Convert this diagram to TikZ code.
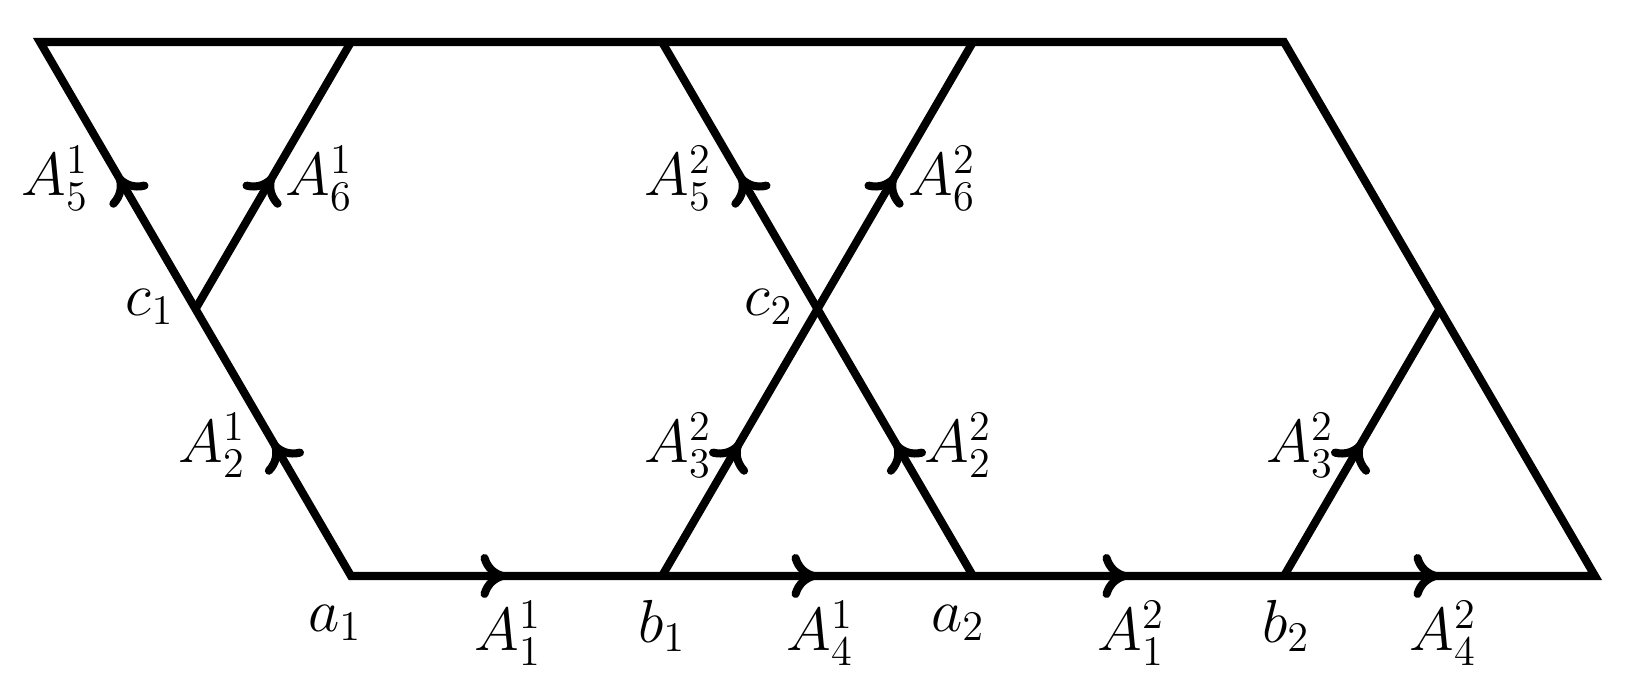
\documentclass[tikz,border=0pt]{standalone}
\usetikzlibrary{decorations.markings,arrows.meta}
\tikzset{
  edge/.style={line width=2.3pt, line join=miter},
  midarrow/.style={line width=2.3pt, postaction={decorate},
    decoration={markings, mark=at position 0.5 with {\arrow[line width=2.3pt]{Computer Modern Rightarrow[length=2.6mm,width=4.4mm]}}}},
  lab/.style={inner sep=0pt, font=\LARGE}
}
\begin{document}
\begin{tikzpicture}[x=0.01cm,y=-0.01cm]
\useasboundingbox (0,0) rectangle (1635,689);
% points
\coordinate (T1) at (40,42);
\coordinate (T2) at (351,42);
\coordinate (T3) at (662,42);
\coordinate (T4) at (973,42);
\coordinate (T5) at (1284,42);
\coordinate (c1) at (195.5,309);
\coordinate (c2) at (817.5,309);
\coordinate (M3) at (1439.5,309);
\coordinate (a1) at (351,576);
\coordinate (b1) at (662,576);
\coordinate (a2) at (973,576);
\coordinate (b2) at (1284,576);
\coordinate (E) at (1595,576);
% outline
\draw[edge] (T1) -- (T5) -- (M3) -- (E) -- (a1) -- (c1) -- cycle;
\draw[edge] (c1) -- (T2);
\draw[edge] (T3) -- (a2);
\draw[edge] (T4) -- (b1);
\draw[edge] (M3) -- (b2);
% arrows
\path[midarrow] (a1) -- (b1);
\path[midarrow] (b1) -- (a2);
\path[midarrow] (a2) -- (b2);
\path[midarrow] (b2) -- (E);
\path[midarrow] (c1) -- (T1);
\path[midarrow] (c1) -- (T2);
\path[midarrow] (a1) -- (c1);
\path[midarrow] (c2) -- (T3);
\path[midarrow] (c2) -- (T4);
\path[midarrow] (b1) -- (c2);
\path[midarrow] (a2) -- (c2);
\path[midarrow] (b2) -- (M3);
% labels
\node[lab] (l51) at (55,178) {$A_5^1$};
\node[lab] (l61) at (319,178) {$A_6^1$};
\node[lab] (lc1) at (150,307) {$c_1$};
\node[lab] (l21) at (212,445) {$A_2^1$};
\node[lab] (l52) at (678,178) {$A_5^2$};
\node[lab] (l62) at (942,178) {$A_6^2$};
\node[lab] (lc2) at (769,307) {$c_2$};
\node[lab] (l32a) at (678,445) {$A_3^2$};
\node[lab] (l22) at (958,445) {$A_2^2$};
\node[lab] (l32b) at (1300,445) {$A_3^2$};
\node[lab] (la1) at (335,623) {$a_1$};
\node[lab] (l11) at (508,633) {$A_1^1$};
\node[lab] (lb1) at (662,626) {$b_1$};
\node[lab] (l41) at (820,633) {$A_4^1$};
\node[lab] (la2) at (958,623) {$a_2$};
\node[lab] (l12) at (1131,633) {$A_1^2$};
\node[lab] (lb2) at (1286,626) {$b_2$};
\node[lab] (l42) at (1443,633) {$A_4^2$};
\end{tikzpicture}
\end{document}
